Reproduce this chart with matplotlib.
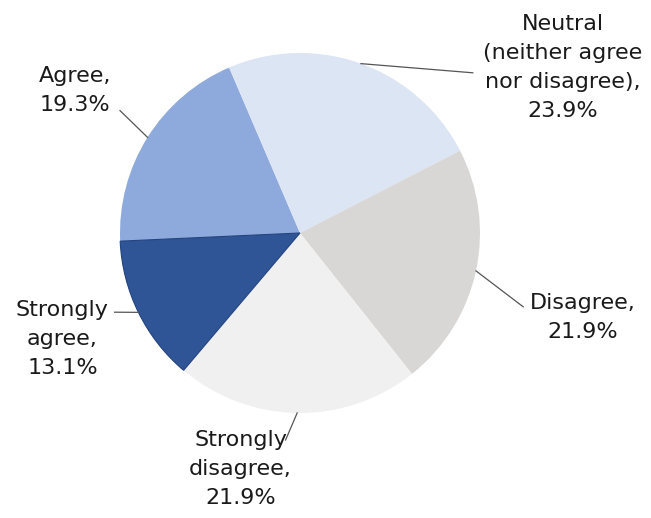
import numpy as np
import matplotlib.pyplot as plt

# === データ ===
labels = ['Agree', 'Neutral\n(neither agree\nnor disagree)', 'Disagree',
          'Strongly\ndisagree', 'Strongly\nagree']
values = [19.3, 23.9, 21.9, 21.9, 13.1]
colors = ['#8eaadc', '#dce5f3', '#d8d7d6', '#f0f0f0', '#2f5597']

# label block centres and leader-line ends (data units, radius = 1)
text_pos = [(-1.25, 0.79), (1.46, 0.92), (1.57, -0.47), (-0.33, -1.31), (-1.32, -0.59)]
line_end = [(-1.00, 0.68), (0.96, 0.89), (1.24, -0.41), (-0.08, -1.15), (-1.03, -0.44)]

fig = plt.figure(figsize=(6.51, 5.18), dpi=100)
ax = fig.add_axes([0, 0, 1, 1])

wedges, _ = ax.pie(values, colors=colors, startangle=182.6, counterclock=False,
                   radius=1, center=(0, 0), frame=True,
                   wedgeprops=dict(linewidth=0.8, edgecolor='none'))
wedges[4].set_edgecolor('#23437e')

for w, lab, val, tp, le in zip(wedges, labels, values, text_pos, line_end):
    ang = np.deg2rad((w.theta1 + w.theta2) / 2)
    x0, y0 = np.cos(ang), np.sin(ang)
    ax.plot([x0, le[0]], [y0, le[1]], color='#555555', lw=0.9)
    ax.text(tp[0], tp[1], f'{lab},\n{val:.1f}%', ha='center', va='center',
            fontsize=16, color='#1a1a1a', linespacing=1.55, family='DejaVu Sans')

ax.set_xlim(-300 / 180, 351 / 180)
ax.set_ylim((233 - 518) / 180, 233 / 180)
ax.set_aspect('auto')
ax.axis('off')

plt.savefig('out.png', dpi=100)
plt.close()
